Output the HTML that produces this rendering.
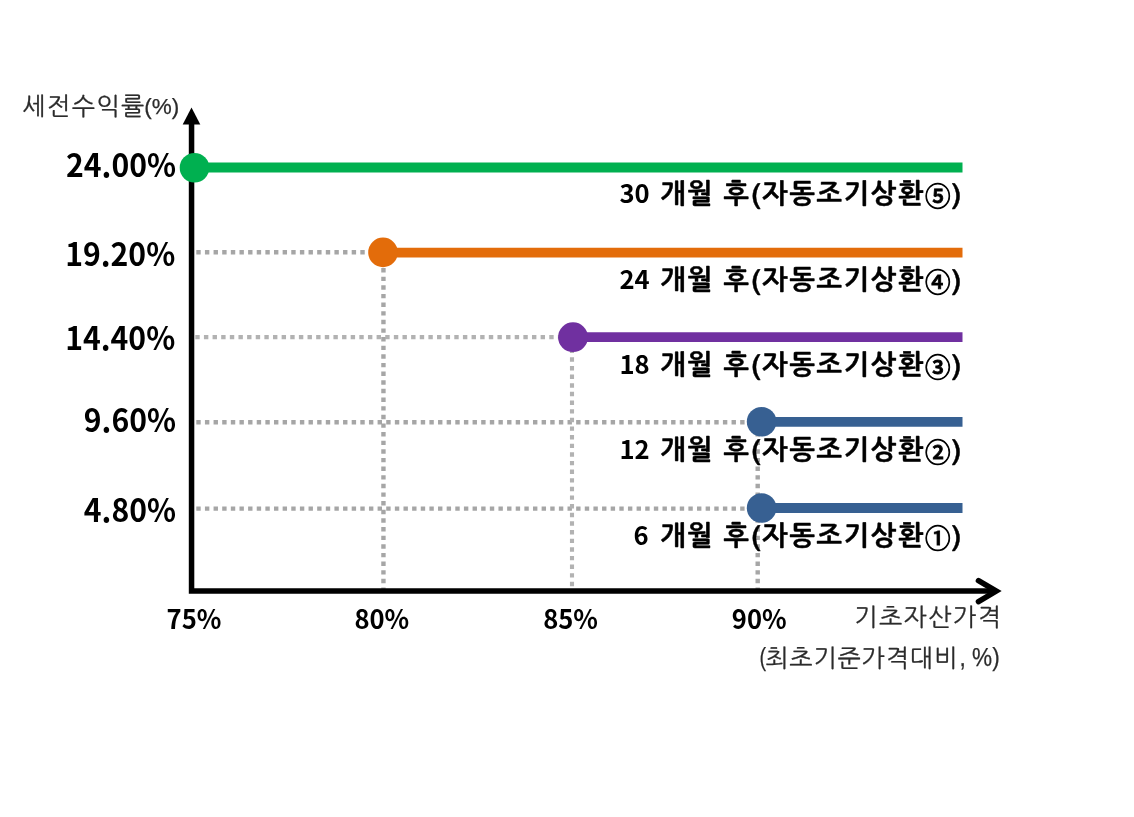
<!DOCTYPE html>
<html lang="ko">
<head>
<meta charset="utf-8">
<title>세전수익률</title>
<style>
html,body{margin:0;padding:0;background:#fff;}
body{width:1134px;height:817px;overflow:hidden;}
svg{display:block;}
.num{font-family:"Noto Sans CJK KR","Liberation Sans",sans-serif;font-weight:bold;fill:#000;}
.ko{font-family:"NanumGothic","Noto Sans CJK KR",sans-serif;font-weight:normal;fill:#2b2b2b;stroke:#2b2b2b;stroke-width:0.3px;}
.pc{font-family:"Liberation Sans",sans-serif;stroke-width:0.25px;}
.lab{font-family:"NanumGothic","Liberation Sans","Noto Sans CJK KR",sans-serif;font-weight:700;fill:#000;}
.h{stroke:#000;stroke-width:0.45px;}
.circ{font-family:"Noto Sans CJK KR",sans-serif;font-weight:500;stroke:#000;stroke-width:0.8px;}
.d{font-family:"Noto Sans CJK KR","Liberation Sans",sans-serif;font-weight:700;font-size:25.6px;}
.grid{stroke:#a6a6a6;stroke-width:4.4;stroke-dasharray:4.4 4.233;fill:none;}
</style>
</head>
<body>
<svg width="1134" height="817" viewBox="0 0 1134 817">
<rect width="1134" height="817" fill="#fff"/>
<!-- grid -->
<g class="grid">
<line x1="196.3" y1="252.3" x2="383" y2="252.3"/>
<line x1="195.3" y1="337.1" x2="560" y2="337.1" stroke="#b2b2b2" stroke-width="4.1"/>
<line x1="196.3" y1="422.2" x2="761" y2="422.2"/>
<line x1="196.3" y1="508.6" x2="761" y2="508.6"/>
<line x1="383.45" y1="591.83" x2="383.45" y2="252"/>
<line x1="572" y1="586.2" x2="572" y2="337" stroke="#b2b2b2" stroke-width="4.1"/>
<line x1="757.7" y1="591.83" x2="757.7" y2="422"/>
</g>
<!-- y labels -->
<g class="num" font-size="32">
<text x="66" y="176.6" textLength="110" lengthAdjust="spacingAndGlyphs">24.00%</text>
<text x="65.2" y="266" textLength="110" lengthAdjust="spacingAndGlyphs">19.20%</text>
<text x="65.2" y="350.4" textLength="110" lengthAdjust="spacingAndGlyphs">14.40%</text>
<text x="83.8" y="432.4" textLength="92.2" lengthAdjust="spacingAndGlyphs">9.60%</text>
<text x="83.8" y="521.8" textLength="92.2" lengthAdjust="spacingAndGlyphs">4.80%</text>
</g>
<!-- x labels -->
<g class="num" font-size="26.5">
<text x="166.6" y="628.5" textLength="54.8" lengthAdjust="spacingAndGlyphs">75%</text>
<text x="354.4" y="628.5" textLength="54.8" lengthAdjust="spacingAndGlyphs">80%</text>
<text x="543.2" y="628.5" textLength="54.8" lengthAdjust="spacingAndGlyphs">85%</text>
<text x="731.8" y="628.5" textLength="54.8" lengthAdjust="spacingAndGlyphs">90%</text>
</g>
<!-- titles -->
<text class="ko" x="22.3" y="115.2" font-size="24.7" letter-spacing="1.5">세전수익률</text>
<text class="ko pc" x="144.2" y="114.4" font-size="22.6" textLength="35" lengthAdjust="spacingAndGlyphs">(%)</text>
<text class="ko" x="854.2" y="625.6" font-size="24.7" letter-spacing="1.5">기초자산가격</text>
<text class="ko pc" x="759.4" y="665.8" font-size="25.5" textLength="6.6" lengthAdjust="spacingAndGlyphs">(</text>
<text class="ko" x="765.2" y="667.4" font-size="24.7" letter-spacing="0.9">최초기준가격대비</text>
<text class="ko pc" x="959.5" y="665.8" font-size="25.5" textLength="40.2" lengthAdjust="spacingAndGlyphs">, %)</text>
<!-- series labels -->
<g class="lab" font-size="27" letter-spacing="1.75">
<text y="203"><tspan x="619.4" class="d" letter-spacing="0">30 </tspan><tspan x="660" class="h">개월 후</tspan><tspan class="h" dy="1.8">(</tspan><tspan class="h" dy="-1.8">자동조기상환</tspan><tspan class="circ" font-size="25.6" dy="3">⑤</tspan><tspan class="h" dy="-1.4" dx="-0.6">)</tspan></text>
<text y="289"><tspan x="619.4" class="d" letter-spacing="0">24 </tspan><tspan x="660" class="h">개월 후</tspan><tspan class="h" dy="1.8">(</tspan><tspan class="h" dy="-1.8">자동조기상환</tspan><tspan class="circ" font-size="25.6" dy="3">④</tspan><tspan class="h" dy="-1.4" dx="-0.6">)</tspan></text>
<text y="374"><tspan x="619.4" class="d" letter-spacing="0">18 </tspan><tspan x="660" class="h">개월 후</tspan><tspan class="h" dy="1.8">(</tspan><tspan class="h" dy="-1.8">자동조기상환</tspan><tspan class="circ" font-size="25.6" dy="3">③</tspan><tspan class="h" dy="-1.4" dx="-0.6">)</tspan></text>
<text y="459"><tspan x="619.4" class="d" letter-spacing="0">12 </tspan><tspan x="660" class="h">개월 후</tspan><tspan class="h" dy="1.8">(</tspan><tspan class="h" dy="-1.8">자동조기상환</tspan><tspan class="circ" font-size="25.6" dy="3">②</tspan><tspan class="h" dy="-1.4" dx="-0.6">)</tspan></text>
<text y="545"><tspan x="633.6" class="d" letter-spacing="0">6 </tspan><tspan x="660" class="h">개월 후</tspan><tspan class="h" dy="1.8">(</tspan><tspan class="h" dy="-1.8">자동조기상환</tspan><tspan class="circ" font-size="25.6" dy="3">①</tspan><tspan class="h" dy="-1.4" dx="-0.6">)</tspan></text>
</g>
<!-- axes -->
<path d="M191.55 124 V591.05 H996" fill="none" stroke="#000" stroke-width="5.5"/>
<path d="M191.5 107.5 L200.3 124.5 H182.7 Z" fill="#000"/>
<path d="M978.5 580.6 L996.2 591.1 L978.5 601.6" fill="none" stroke="#000" stroke-width="5.6" stroke-linecap="round" stroke-linejoin="miter"/>
<!-- series -->
<g stroke-width="9.8" fill="none">
<line x1="194.5" y1="167.5" x2="962.5" y2="167.5" stroke="#00b050"/>
<line x1="383" y1="252.6" x2="962.5" y2="252.6" stroke="#e36c0a"/>
<line x1="573" y1="337.2" x2="962.5" y2="337.2" stroke="#7030a0"/>
<line x1="761.6" y1="421.8" x2="962.5" y2="421.8" stroke="#376092"/>
<line x1="761.6" y1="508" x2="962.5" y2="508" stroke="#376092"/>
</g>
<circle cx="194.5" cy="167.7" r="14.8" fill="#00b050"/>
<circle cx="383" cy="252.4" r="14.8" fill="#e36c0a"/>
<circle cx="573" cy="337.2" r="14.9" fill="#7030a0"/>
<circle cx="761.6" cy="421.8" r="14.8" fill="#376092"/>
<circle cx="761.6" cy="508" r="14.8" fill="#376092"/>
</svg>
</body>
</html>
